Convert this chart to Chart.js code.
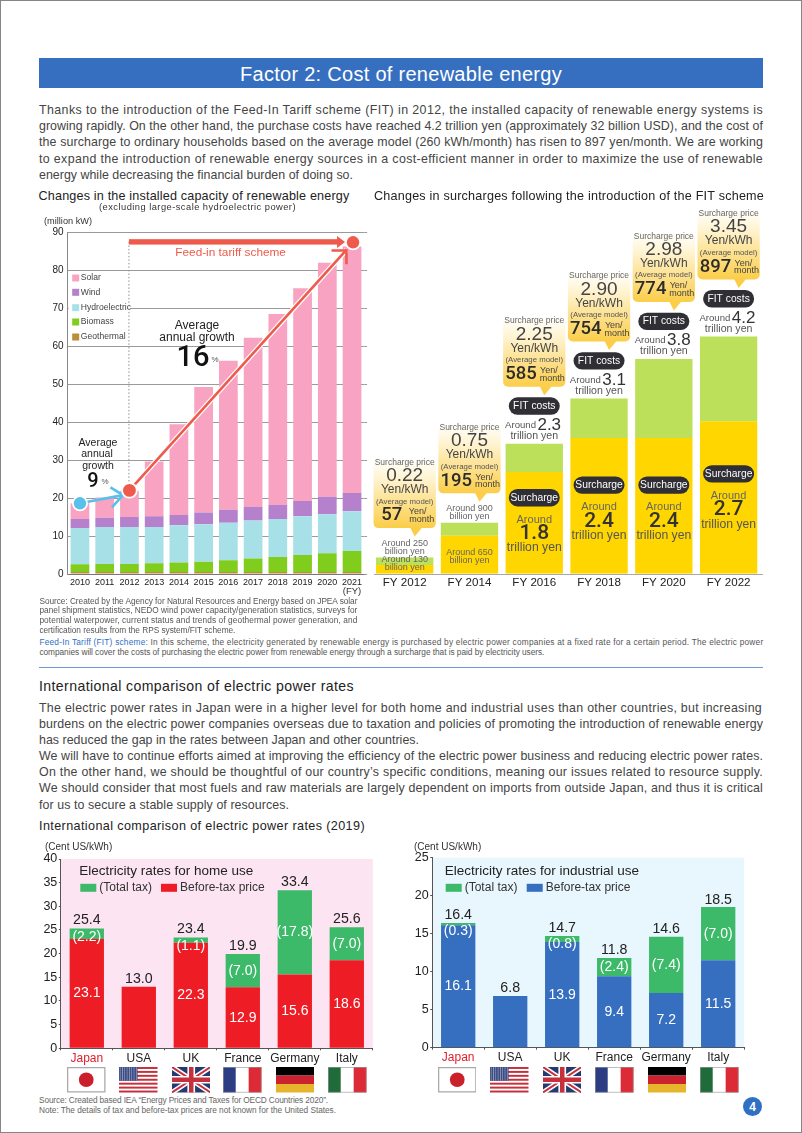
<!DOCTYPE html>
<html><head><meta charset="utf-8">
<script src="https://cdn.jsdelivr.net/npm/chart.js@4/dist/chart.umd.min.js"></script>
<style>
html,body{margin:0;padding:0;background:#fff}
#page{position:relative;width:802px;height:1133px;overflow:hidden;background:#fff;font-family:"Liberation Sans",sans-serif;box-sizing:border-box}
#frame{position:absolute;left:0;top:0;width:802px;height:1133px;box-sizing:border-box;border:1px solid #858585;pointer-events:none}
.t{position:absolute;white-space:nowrap;line-height:1;transform:translateY(-50%)}
canvas{position:absolute}
svg.flag{position:absolute}
</style></head><body><div id="page"><div id="frame"></div>
<div style="position:absolute;left:39px;top:58px;width:724px;height:30px;background:#366fc0"></div>
<div style="position:absolute;left:39px;top:667px;width:724px;height:1px;background:#6f97d6"></div>
<div style="position:absolute;left:743px;top:1097px;width:19.4px;height:19.4px;border-radius:50%;background:#2f6fc4"></div>
<canvas id="c1" width="345" height="400" style="left:30px;top:205px"></canvas>
<canvas id="c2" width="400" height="400" style="left:370px;top:200px"></canvas>
<canvas id="c3" width="350" height="225" style="left:30px;top:840px"></canvas>
<canvas id="c4" width="350" height="225" style="left:400px;top:840px"></canvas>
</div>
<script>
// ---------- Chart 1 data: installed capacity (million kW) ----------
const capYears=['2010','2011','2012','2013','2014','2015','2016','2017','2018','2019','2020','2021'];
const capGeothermal=[0.5,0.5,0.5,0.5,0.5,0.5,0.5,0.5,0.5,0.5,0.5,0.5];
const capBiomass=[2.05,2.15,2.15,2.3,2.5,2.75,3.1,3.6,4.0,4.5,4.95,5.55];
const capHydro=[9.55,9.75,9.75,9.6,9.8,9.85,9.9,10,10,10.2,10.25,10.45];
const capWind=[2.4,2.4,2.6,2.8,2.7,3.1,3.4,3.5,3.7,4,4.6,4.8];
const capSolar=[4.1,5.3,6.9,14.4,23.9,33,39.2,44.6,50.2,56,61.6,64.9];
const capTicks=[0,10,20,30,40,50,60,70,80,90];
// ---------- Chart 2 data: FIT costs (trillion yen, bar heights as drawn) ----------
const fyLabels=['FY 2012','FY 2014','FY 2016','FY 2018','FY 2020','FY 2022'];
const surchargeAmount=[0.155,0.67,1.8,2.4,2.4,2.7];
const avoidedCost=[0.13,0.23,0.5,0.7,1.4,1.5];
const pricePerKwh=['0.22','0.75','2.25','2.90','2.98','3.45'];
const monthlyYen=['57','195','585','754','774','897'];
const totalBillionText=['Around 250','Around 900'];
const surchargeBillionText=['Around 130','Around 650'];
const totalTrillionText=[null,null,'2.3','3.1','3.8','4.2'];
const surchargeTrillionText=[null,null,'1.8','2.4','2.4','2.7'];
// ---------- Chart 3 / 4 data: power rates (Cent US/kWh) ----------
const countries=['Japan','USA','UK','France','Germany','Italy'];
const homePre=[23.1,13.0,22.3,12.9,15.6,18.6];
const homeTax=[2.2,null,1.1,7.0,17.8,7.0];
const homeTotal=['25.4','13.0','23.4','19.9','33.4','25.6'];
const indPre=[16.1,6.8,13.9,9.4,7.2,11.5];
const indTax=[0.3,null,0.8,2.4,7.4,7.0];
const indTotal=['16.4','6.8','14.7','11.8','14.6','18.5'];

const FONT='"Liberation Sans",sans-serif';
Chart.defaults.font.family=FONT;
Chart.defaults.animation=false;
Chart.defaults.responsive=false;
Chart.defaults.devicePixelRatio=1;
Chart.defaults.plugins.legend.display=false;
Chart.defaults.plugins.tooltip.enabled=false;

const page=document.getElementById('page');
function T(x,y,html,o={}){
  const d=document.createElement('div');d.className='t';d.innerHTML=html;
  d.style.left=x+'px';d.style.top=y+'px';d.style.fontSize=(o.size||12.4)+'px';d.style.color=o.color||'#444';
  if(o.weight)d.style.fontWeight=o.weight;
  if(o.center)d.style.transform='translate(-50%,-50%)';
  page.appendChild(d);
  if(o.w){const n=d.getBoundingClientRect().width;d.style.letterSpacing=((o.w-n)/d.textContent.length)+'px';}
  return d;
}
T(401,73.5,'Factor 2: Cost of renewable energy',{size:20,color:'#fff',center:true,w:322});
[['Thanks to the introduction of the Feed-In Tariff scheme (FIT) in 2012, the installed capacity of renewable energy systems is',110,724],
 ['growing rapidly. On the other hand, the purchase costs have reached 4.2 trillion yen (approximately 32 billion USD), and the cost of',126,724],
 ['the surcharge to ordinary households based on the average model (260 kWh/month) has risen to 897 yen/month. We are working',142.3,724],
 ['to expand the introduction of renewable energy sources in a cost-efficient manner in order to maximize the use of renewable',158.7,724],
 ['energy while decreasing the financial burden of doing so.',174.7,314]
].forEach(l=>T(39,l[1],l[0],{w:l[2]}));
T(38.5,196.3,'Changes in the installed capacity of renewable energy',{size:12.6,color:'#222',w:311});
T(374,196.3,'Changes in surcharges following the introduction of the FIT scheme',{size:12.6,color:'#222',w:390});
T(99,208.3,'(excluding large-scale hydroelectric power)',{size:9.3,color:'#333',w:197});
T(44,221.7,'(million kW)',{size:9.2,color:'#333'});
[['Source: Created by the Agency for Natural Resources and Energy based on JPEA solar',600.7,318],
 ['panel shipment statistics, NEDO wind power capacity/generation statistics, surveys for',610.3,318],
 ['potential waterpower, current status and trends of geothermal power generation, and',620,318],
 ['certification results from the RPS system/FIT scheme.',629.7,196]
].forEach(l=>T(39.4,l[1],l[0],{size:8.3,color:'#555',w:l[2]}));
T(39.4,641.7,'<span style="color:#2f6fc4">Feed-In Tariff (FIT) scheme:</span> In this scheme, the electricity generated by renewable energy is purchased by electric power companies at a fixed rate for a certain period. The electric power',{size:8.3,color:'#555',w:724});
T(39.4,652,'companies will cover the costs of purchasing the electric power from renewable energy through a surcharge that is paid by electricity users.',{size:8.3,color:'#555',w:505});
T(39,686,'International comparison of electric power rates',{size:14.1,color:'#222',w:315});
[['The electric power rates in Japan were in a higher level for both home and industrial uses than other countries, but increasing',708.3,723],
 ['burdens on the electric power companies overseas due to taxation and policies of promoting the introduction of renewable energy',724.3,724],
 ['has reduced the gap in the rates between Japan and other countries.',740,380],
 ['We will have to continue efforts aimed at improving the efficiency of the electric power business and reducing electric power rates.',756,724],
 ['On the other hand, we should be thoughtful of our country\u2019s specific conditions, meaning our issues related to resource supply.',772,724],
 ['We should consider that most fuels and raw materials are largely dependent on imports from outside Japan, and thus it is critical',788,724],
 ['for us to secure a stable supply of resources.',804.7,250]
].forEach(l=>T(39,l[1],l[0],{w:l[2]}));
T(39,826,'International comparison of electric power rates (2019)',{size:12.6,color:'#222',w:326});
T(45,846.7,'(Cent US/kWh)',{size:10,color:'#333'});
T(414,846.7,'(Cent US/kWh)',{size:10,color:'#333'});
T(39,1100,'Source: Created based IEA \u201cEnergy Prices and Taxes for OECD Countries 2020\u201d.',{size:8.3,color:'#666',w:289});
T(39,1110.3,'Note: The details of tax and before-tax prices are not known for the United States.',{size:8.3,color:'#666',w:297});
T(752.7,1106.8,'4',{size:12,color:'#fff',weight:'bold',center:true});

// flags
const outline='<rect x=".5" y=".5" width="59" height="39" fill="none" stroke="#999" stroke-width="1"/>';
const FLAGS={
 Japan:'<rect width="60" height="40" fill="#fff"/><circle cx="30" cy="20" r="11.5" fill="#c9202c"/><rect x="1" y="1" width="58" height="38" fill="none" stroke="#aaa" stroke-width="2"/>',
 USA:'<defs><pattern id="st" width="3.6" height="3" patternUnits="userSpaceOnUse"><circle cx="1.8" cy="1.5" r=".8" fill="#fff"/></pattern></defs><rect width="60" height="40" fill="#fff"/>'+[0,2,4,6,8,10,12].map(i=>`<rect y="${i*40/13}" width="60" height="${40/13}" fill="#c5303c"/>`).join('')+'<rect width="29" height="21.5" fill="#36467f"/><rect width="29" height="21.5" fill="url(#st)"/>',
 UK:'<rect width="60" height="40" fill="#263a72"/><path d="M0 0L60 40M60 0L0 40" stroke="#fff" stroke-width="8"/><path d="M0 0L60 40M60 0L0 40" stroke="#c5303c" stroke-width="3"/><path d="M30 0V40M0 20H60" stroke="#fff" stroke-width="12"/><path d="M30 0V40M0 20H60" stroke="#c5303c" stroke-width="7"/>',
 France:'<rect width="20" height="40" fill="#2c3d84"/><rect x="20" width="20" height="40" fill="#fff"/><rect x="40" width="20" height="40" fill="#dc2a36"/>'+outline,
 Germany:'<rect width="60" height="13.4" fill="#000"/><rect y="13.4" width="60" height="13.3" fill="#cc2230"/><rect y="26.7" width="60" height="13.3" fill="#e7b52c"/>',
 Italy:'<rect width="20" height="40" fill="#1f6b3a"/><rect x="20" width="20" height="40" fill="#fff"/><rect x="40" width="20" height="40" fill="#dc2a36"/>'+outline};
function flag(n,x){const s=document.createElementNS('http://www.w3.org/2000/svg','svg');s.setAttribute('class','flag');
  s.setAttribute('viewBox','0 0 60 40');s.setAttribute('preserveAspectRatio','none');
  s.style.cssText=`left:${x}px;top:1067px;width:38.5px;height:25.5px`;s.innerHTML=FLAGS[n];page.appendChild(s);}
countries.forEach((n,i)=>{flag(n,[67.3,119.3,171.7,223,275.7,328][i]);flag(n,[437.7,490,542.7,595,647.7,700][i]);});

function txt(ctx,s,x,y,size,color,align='center',weight='400',fam=FONT){
  ctx.font=`${weight} ${size}px ${fam}`;ctx.fillStyle=color;ctx.textAlign=align;ctx.textBaseline='middle';ctx.fillText(s,x,y);
}
function rr(ctx,x,y,w,h,r){ctx.beginPath();ctx.roundRect(x,y,w,h,r);}

// ---------- Chart 1 ----------
const capColors={Solar:'#f9a3c3',Wind:'#b581cc',Hydroelectric:'#a8e0e8',Biomass:'#80cd1e',Geothermal:'#b98f3a'};
const rateStart=18.6, rateFit=22, rateEnd=87.3, schemeLevel=87.4;
const capPlugin={id:'capAnno',
 beforeDatasetsDraw(ch){const c=ch.ctx,{x,y}=ch.scales;c.save();
  c.strokeStyle='#9a9a9a';c.lineWidth=1;
  capTicks.forEach(v=>{const p=Math.round(y.getPixelForValue(v))+.5;c.beginPath();c.moveTo(x.right,p);c.lineTo(x.right+2.7,p);c.stroke();});
  c.fillStyle='#fff';c.fillRect(x.left+1,y.getPixelForValue(80)+2,62,70);
  const lx=x.left+4.6;
  ['Solar','Wind','Hydroelectric','Biomass','Geothermal'].forEach((n,i)=>{
    const py=y.getPixelForValue(80)+[8,22.3,37.7,52,67][i];
    c.fillStyle=capColors[n];c.fillRect(lx,py-3.5,7,7);
    txt(c,n,lx+8.6,py,8.6,'#444','left');
  });
  c.restore();},
 afterDatasetsDraw(ch){const c=ch.ctx,{x,y}=ch.scales;c.save();
  const red='#ee5a4c',blue='#58c0ea';
  const ax=x.getPixelForValue(0),ay=y.getPixelForValue(rateStart);
  const bx=x.getPixelForValue(2),by=y.getPixelForValue(rateFit);
  const ex=x.getPixelForValue(11)+1,ey=y.getPixelForValue(rateEnd);
  const sy=y.getPixelForValue(schemeLevel);
  c.strokeStyle='#8f8f8f';c.lineWidth=1;c.setLineDash([1.5,2]);c.beginPath();c.moveTo(bx-.5,sy);c.lineTo(bx-.5,by);c.stroke();c.setLineDash([]);
  c.fillStyle=red;c.fillRect(bx-.5,sy-2.7,ex-bx-13,5.4);
  c.beginPath();c.moveTo(ex-8,sy);c.lineTo(ex-16,sy-6);c.lineTo(ex-16,sy+6);c.closePath();c.fill();
  txt(c,'Feed-in tariff scheme',x.left+163,sy+10.6,11.8,red);
  c.lineCap='butt';
  c.strokeStyle='#fff';c.lineWidth=5;c.beginPath();c.moveTo(bx,by);c.lineTo(ex-6.6,ey+7.7);c.stroke();
  c.strokeStyle=red;c.lineWidth=2.6;c.beginPath();c.moveTo(bx,by);c.lineTo(ex-6.6,ey+7.7);c.stroke();
  c.beginPath();c.moveTo(ex-21.5,ey+8.3);c.lineTo(ex-6.6,ey+8.3);c.lineTo(ex-6.6,ey+22);c.stroke();
  c.strokeStyle=blue;c.lineWidth=2.6;c.beginPath();c.moveTo(ax,ay);c.lineTo(bx-6.4,by+4.7);c.stroke();
  c.beginPath();c.moveTo(bx-19,by-3);c.lineTo(bx-6.4,by+4.7);c.lineTo(bx-17.5,by+17);c.stroke();
  [[ax,ay,blue,6.2],[bx,by,red,6.4],[ex,ey,red,6.2]].forEach(d=>{
    c.fillStyle='#fff';c.beginPath();c.arc(d[0],d[1],d[3]+1.8,0,7);c.fill();
    c.fillStyle=d[2];c.beginPath();c.arc(d[0],d[1],d[3],0,7);c.fill();});
  txt(c,'Average',167,120.3,12,'#222');
  txt(c,'annual growth',167,132.7,12,'#222');
  txt(c,'16',163,153.5,29,'#111','center','500','Roboto');
  txt(c,'%',185,154.5,8,'#555');
  txt(c,'Average',68,238.3,10.5,'#222');
  txt(c,'annual',67,249,10.5,'#222');
  txt(c,'growth',68,261,10.5,'#222');
  txt(c,'9',63,276.7,20,'#111','center','500','Roboto');
  txt(c,'%',75,277,8,'#555');
  txt(c,'(FY)',x.getPixelForValue(11),386.7,9.5,'#333');
  c.restore();}
};
new Chart('c1',{type:'bar',plugins:[capPlugin],data:{labels:capYears,datasets:[
  {label:'Geothermal',data:capGeothermal,backgroundColor:capColors.Geothermal},
  {label:'Biomass',data:capBiomass,backgroundColor:capColors.Biomass},
  {label:'Hydroelectric',data:capHydro,backgroundColor:capColors.Hydroelectric},
  {label:'Wind',data:capWind,backgroundColor:capColors.Wind},
  {label:'Solar',data:capSolar,backgroundColor:capColors.Solar}]},
 options:{layout:{padding:{left:0,right:10.6,top:27,bottom:0}},
  datasets:{bar:{barPercentage:.757,categoryPercentage:1}},
  scales:{
   x:{stacked:true,afterFit(s){s.height=31;},grid:{display:false,drawTicks:false},border:{color:'#777'},
      ticks:{font:{size:9},color:'#222',padding:3.3,autoSkip:false,maxRotation:0}},
   y:{stacked:true,min:0,max:90,afterFit(s){s.width=37.6;},afterBuildTicks(s){s.ticks=capTicks.map(v=>({value:v}));},
      grid:{color:'#9a9a9a',drawTicks:false},border:{color:'#888'},
      ticks:{font:{size:10},color:'#222',padding:4}}}}});

// ---------- Chart 2 ----------
const costPlugin={id:'costAnno',
 afterDatasetsDraw(ch){const c=ch.ctx,{x,y}=ch.scales;c.save();
  const base=y.getPixelForValue(0);
  c.strokeStyle='#a8a8a8';c.lineWidth=1;c.beginPath();c.moveTo(x.left+1.7,Math.round(base)+.5);c.lineTo(x.right+2,Math.round(base)+.5);c.stroke();
  fyLabels.forEach((f,i)=>{
   const cx=x.getPixelForValue(i);
   const total=surchargeAmount[i]+avoidedCost[i];
   const top=y.getPixelForValue(total),ytop=y.getPixelForValue(surchargeAmount[i]);
   const big=i>=2;
   const h=70,w=62.3,rb=top-(big?57:29.5),rt=rb-h,l=cx-w/2;
   const g=c.createLinearGradient(0,rt,0,rb);g.addColorStop(0,'#ffffff');g.addColorStop(.3,'#fff3cf');g.addColorStop(1,'#fbcd48');
   c.fillStyle=g;rr(c,l,rt,w,h,5);c.fill();
   c.fillStyle='#fbcd48';c.beginPath();c.moveTo(cx+5.5,rb-.5);c.lineTo(cx+10,rb+8.5);c.lineTo(cx+17.5,rb-.5);c.closePath();c.fill();
   txt(c,'Surcharge price',cx,rt+4.3,8.5,'#666');
   txt(c,pricePerKwh[i],cx,rt+17.7,19,'#444');
   txt(c,'Yen/kWh',cx,rt+31.7,12,'#444');
   txt(c,'(Average model)',cx,rt+43.3,7.8,'#555');
   txt(c,monthlyYen[i],cx-(i==0?13:13.2),rt+57.7,18.5,'#2c2c2c','center','500','Roboto');
   txt(c,'Yen/',cx+(i==0?13:14.7),rt+53.7,9,'#444');
   txt(c,'month',cx+(i==0?17:18),rt+61.5,9,'#444');
   if(big){
    const py=top-37.7;
    c.fillStyle='#2f2f35';rr(c,cx-25.5,py-8.7,51,17.4,8.7);c.fill();
    txt(c,'FIT costs',cx,py,10.3,'#fff');
    txt(c,'Around',cx-13.7,top-18.3,9.6,'#555');
    txt(c,totalTrillionText[i],cx+15,top-18.3,17,'#333');
    txt(c,'trillion yen',cx,top-7.7,10.6,'#555');
    const sy=ytop+(i==2?25.7:i==5?52.7:47);
    c.fillStyle='#2f2f35';rr(c,cx-25.5,sy-8.7,51,17.4,8.7);c.fill();
    txt(c,'Surcharge',cx,sy,10.3,'#fff');
    txt(c,'Around',cx,sy+22.3,11,'#666');
    txt(c,surchargeTrillionText[i],cx,sy+36.3,21,'#333','center','500','Roboto');
    txt(c,'trillion yen',cx,sy+50.3,12.2,'#555');
   }else{
    txt(c,totalBillionText[i],cx,top-14.5,9,'#666');
    txt(c,'billion yen',cx,top-6.3,9,'#666');
    const d=i==0?13.7:21.3;
    txt(c,surchargeBillionText[i],cx,base-d,9,'#666');
    txt(c,'billion yen',cx,base-d+8,9,'#666');
   }
  });
  c.restore();}
};
new Chart('c2',{type:'bar',plugins:[costPlugin],data:{labels:fyLabels,datasets:[
  {label:'Surcharge',data:surchargeAmount,backgroundColor:'#ffd600'},
  {label:'Avoided cost',data:avoidedCost,backgroundColor:'#bde05a'}]},
 options:{layout:{padding:{left:2.3,right:9,top:6.5,bottom:0}},
  datasets:{bar:{barPercentage:.885,categoryPercentage:1}},
  scales:{
   x:{stacked:true,afterFit(s){s.height=26.3;},grid:{display:false,drawTicks:false},border:{display:false},
      ticks:{font:{size:11.6},color:'#222',padding:2,maxRotation:0,autoSkip:false}},
   y:{stacked:true,display:false,min:0,max:6.5}}}});

// ---------- Charts 3 & 4 ----------
function rateChart(id,pre,tax,totals,o){
 const plugin={id:'rate'+id,
  beforeDraw(ch){const a=ch.chartArea,c=ch.ctx;c.save();c.fillStyle=o.bg;c.fillRect(a.left,a.top,a.right-a.left,a.bottom-a.top);c.restore();},
  afterDatasetsDraw(ch){const c=ch.ctx,{x,y}=ch.scales;c.save();
   const L=o.titleX;
   txt(c,o.title,L,31,13.5,'#222','left');
   c.fillStyle=o.green;c.fillRect(L+1,43.8,16,8);
   txt(c,'(Total tax)',L+20,47.8,12,'#333','left');
   c.fillStyle=o.color;c.fillRect(L+o.lg2,43.8,16,8);
   txt(c,'Before-tax price',L+o.lg2+19,47.8,12,'#333','left');
   countries.forEach((n,i)=>{
    const cx=x.getPixelForValue(i);
    const p=pre[i],t=tax[i]||0,y0=y.getPixelForValue(0),yp=y.getPixelForValue(p),yt=y.getPixelForValue(p+t);
    txt(c,totals[i],cx,yt-o.above,14.2,'#222');
    if(tax[i]!==null){
      txt(c,p.toFixed(1),cx,(y0+yp)/2,14,'#fff');
      txt(c,'('+t.toFixed(1)+')',cx,Math.max((yp+yt)/2,yt+8.5),14,'#fff');
    }
   });
   c.restore();}
 };
 new Chart(id,{type:'bar',plugins:[plugin],data:{labels:countries,datasets:[
   {label:'Before-tax price',data:pre,backgroundColor:o.color},
   {label:'(Total tax)',data:tax,backgroundColor:o.green}]},
  options:{layout:{padding:{left:0,right:o.padR,top:o.padT,bottom:0}},
   datasets:{bar:{barPercentage:.66,categoryPercentage:1}},
   scales:{
    x:{stacked:true,afterFit(s){s.height=o.axisH;},grid:{drawOnChartArea:false,color:'#555',tickLength:2},border:{color:'#555'},
       ticks:{font:{size:12},color:ctx=>ctx.index===0?'#e0202c':'#222',padding:1,autoSkip:false,maxRotation:0}},
    y:{stacked:true,min:0,max:o.max,afterFit(s){s.width=o.axisW;},grid:{drawOnChartArea:false,color:'#555',tickLength:2},border:{color:'#555'},
       ticks:{stepSize:5,font:{size:12.5},color:'#222',padding:1.5}}}}});
}
rateChart('c3',homePre,homeTax,homeTotal,{bg:'#fce4f2',color:'#ee1c25',green:'#3dba69',title:'Electricity rates for home use',titleX:49.3,lg2:81.7,max:40,above:8,padR:7.2,padT:19,axisH:16.7,axisW:30.8});
rateChart('c4',indPre,indTax,indTotal,{bg:'#e8f6fd',color:'#366fc0',green:'#3dba69',title:'Electricity rates for industrial use',titleX:44.7,lg2:82,max:25,above:7.5,padR:5.8,padT:17.7,axisH:17.3,axisW:32.2});
</script></body></html>
